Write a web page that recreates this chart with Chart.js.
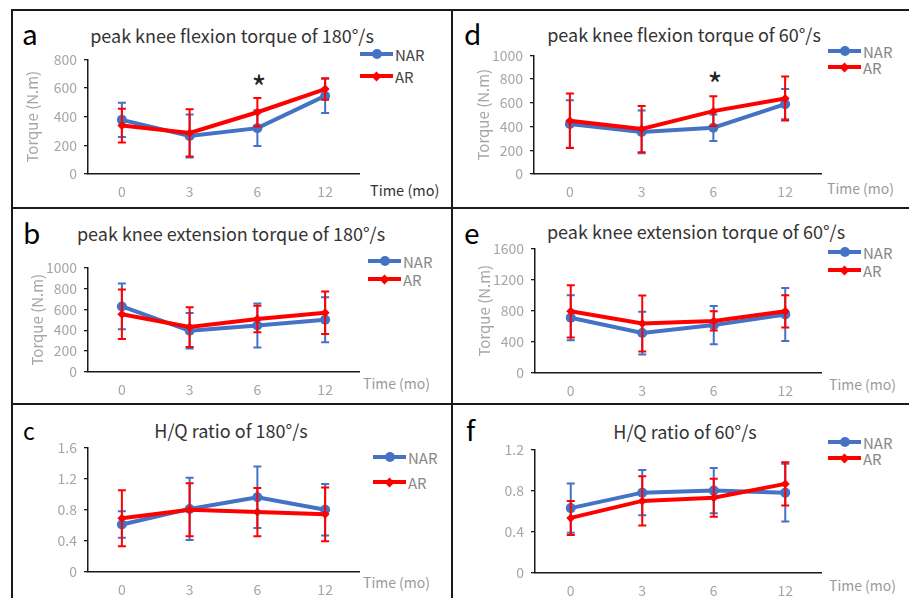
<!DOCTYPE html>
<html>
<head>
<meta charset="utf-8">
<script src="https://cdn.jsdelivr.net/npm/chart.js@4.4.1/dist/chart.umd.min.js"></script>
<style>
body { margin: 0; background: #fff; width: 909px; height: 598px; overflow: hidden; position: relative;
       font-family: "Noto Sans CJK SC", "Noto Sans", sans-serif; }
.rule { position: absolute; background: #1a1a1a; }
canvas { position: absolute; }
.t { position: absolute; white-space: nowrap; line-height: 1; transform: translate(-50%, -50%); }
.letter { position: absolute; line-height: 1; transform: translateY(-50%); color: #000; }
.title { font-size: 18px; color: #333; }
.time { font-size: 14px; color: #9a9a9a; transform: translateY(-50%); }
.star { font-size: 32px; color: #222; }
.lg { position: absolute; height: 0; width: 0; }
.lg i { position: absolute; left: 0; top: -2px; width: 33px; height: 4px; }
.lg b { position: absolute; }
.lg b.dot { left: 11.5px; top: -5px; width: 10px; height: 10px; border-radius: 50%; background: #4472c4; }
.lg b.dia { left: 13px; top: -3.5px; width: 7px; height: 7px; transform: rotate(45deg); background: #ff0000; }
.lg span { position: absolute; left: 35px; top: 0; transform: translateY(-50%); line-height: 1; font-size: 15px; color: #888; }
</style>
</head>
<body>

<div class="rule" style="left:11px;top:9px;width:898px;height:2px"></div>
<div class="rule" style="left:11px;top:9px;width:2px;height:589px"></div>
<div class="rule" style="left:451px;top:9px;width:2px;height:589px"></div>
<div class="rule" style="left:11px;top:207px;width:898px;height:2px"></div>
<div class="rule" style="left:11px;top:403px;width:898px;height:2px"></div>

<div class="letter" style="left:22px;top:33px;font-size:28px">a</div>
<div class="letter" style="left:23px;top:232px;font-size:28px">b</div>
<div class="letter" style="left:23px;top:430px;font-size:23px">c</div>
<div class="letter" style="left:464px;top:33px;font-size:28px">d</div>
<div class="letter" style="left:464px;top:232px;font-size:28px">e</div>
<div class="letter" style="left:466px;top:429px;font-size:28px">f</div>

<div class="t title" style="left:232px;top:35px">peak knee flexion torque of 180°/s</div>
<div class="t title" style="left:231px;top:233px">peak knee extension torque of 180°/s</div>
<div class="t title" style="left:231px;top:430px">H/Q ratio of 180°/s</div>
<div class="t title" style="left:684px;top:34px">peak knee flexion torque of 60°/s</div>
<div class="t title" style="left:696px;top:231px">peak knee extension torque of 60°/s</div>
<div class="t title" style="left:685px;top:431px">H/Q ratio of 60°/s</div>

<div class="t star" style="left:259px;top:86px">*</div>
<div class="t star" style="left:715px;top:83px">*</div>

<div class="t time" style="left:370px;top:190px;color:#333;font-size:14.5px">Time (mo)</div>
<div class="t time" style="left:363px;top:383px">Time (mo)</div>
<div class="t time" style="left:363px;top:582px">Time (mo)</div>
<div class="t time" style="left:827px;top:188px">Time (mo)</div>
<div class="t time" style="left:829px;top:384px">Time (mo)</div>
<div class="t time" style="left:829px;top:585px">Time (mo)</div>

<div class="lg" style="left:360px;top:54px"><i style="background:#4472c4"></i><b class="dot"></b><span style="color:#444">NAR</span></div>
<div class="lg" style="left:360px;top:76px"><i style="background:#ff0000"></i><b class="dia"></b><span style="color:#444">AR</span></div>
<div class="lg" style="left:368px;top:261px"><i style="background:#4472c4"></i><b class="dot"></b><span>NAR</span></div>
<div class="lg" style="left:368px;top:279px"><i style="background:#ff0000"></i><b class="dia"></b><span>AR</span></div>
<div class="lg" style="left:373px;top:457px"><i style="background:#4472c4"></i><b class="dot"></b><span>NAR</span></div>
<div class="lg" style="left:373px;top:482px"><i style="background:#ff0000"></i><b class="dia"></b><span>AR</span></div>
<div class="lg" style="left:828px;top:51px"><i style="background:#4472c4"></i><b class="dot"></b><span>NAR</span></div>
<div class="lg" style="left:828px;top:67px"><i style="background:#ff0000"></i><b class="dia"></b><span>AR</span></div>
<div class="lg" style="left:828px;top:252px"><i style="background:#4472c4"></i><b class="dot"></b><span>NAR</span></div>
<div class="lg" style="left:828px;top:270px"><i style="background:#ff0000"></i><b class="dia"></b><span>AR</span></div>
<div class="lg" style="left:828px;top:442px"><i style="background:#4472c4"></i><b class="dot"></b><span>NAR</span></div>
<div class="lg" style="left:828px;top:458px"><i style="background:#ff0000"></i><b class="dia"></b><span>AR</span></div>

<script>
const months = ['0', '3', '6', '12'];

// a: peak knee flexion torque 180°/s
const flex180Nar = [378, 265, 320, 545];
const flex180NarSd = [120, 150, 125, 120];
const flex180Ar = [338, 287, 431, 593];
const flex180ArSd = [118, 165, 100, 75];
const flex180Ticks = [0, 200, 400, 600, 800];

// b: peak knee extension torque 180°/s
const ext180Nar = [627, 394, 445, 500];
const ext180NarSd = [218, 170, 210, 215];
const ext180Ar = [552, 430, 506, 567];
const ext180ArSd = [237, 190, 127, 203];
const ext180Ticks = [0, 200, 400, 600, 800, 1000];

// c: H/Q ratio 180°/s
const hq180Nar = [0.61, 0.81, 0.96, 0.80];
const hq180NarSd = [0.17, 0.40, 0.395, 0.33];
const hq180Ar = [0.69, 0.80, 0.77, 0.74];
const hq180ArSd = [0.36, 0.34, 0.31, 0.345];
const hq180Ticks = [0, 0.4, 0.8, 1.2, 1.6];

// d: peak knee flexion torque 60°/s
const flex60Nar = [422, 355, 390, 589];
const flex60NarSd = [200, 180, 112, 128];
const flex60Ar = [449, 379, 530, 637];
const flex60ArSd = [230, 195, 126, 185];
const flex60Ticks = [0, 200, 400, 600, 800, 1000];

// e: peak knee extension torque 60°/s
const ext60Nar = [710, 513, 615, 751];
const ext60NarSd = [290, 275, 245, 340];
const ext60Ar = [792, 636, 669, 792];
const ext60ArSd = [335, 360, 123, 207];
const ext60Ticks = [0, 400, 800, 1200, 1600];

// f: H/Q ratio 60°/s
const hq60Nar = [0.63, 0.78, 0.80, 0.78];
const hq60NarSd = [0.24, 0.22, 0.22, 0.28];
const hq60Ar = [0.535, 0.70, 0.73, 0.865];
const hq60ArSd = [0.165, 0.24, 0.185, 0.21];
const hq60Ticks = [0, 0.4, 0.8, 1.2];

const blue = '#4472c4';
const red = '#ff0000';
const axisColor = '#1a1a1a';
const tickGray = '#a6a6a6';

const errorBars = {
    id: 'errorBars',
    beforeDatasetDraw(chart, args) {
        const ds = chart.data.datasets[args.index];
        const y = chart.scales.y;
        const ctx = chart.ctx;
        ctx.save();
        ctx.strokeStyle = ds.borderColor;
        ctx.lineWidth = 2;
        args.meta.data.forEach(function (pt, i) {
            const top = y.getPixelForValue(ds.data[i] + ds.errors[i]);
            const bot = y.getPixelForValue(ds.data[i] - ds.errors[i]);
            ctx.beginPath();
            ctx.moveTo(pt.x, top); ctx.lineTo(pt.x, bot);
            ctx.moveTo(pt.x - 4, top); ctx.lineTo(pt.x + 4, top);
            ctx.moveTo(pt.x - 4, bot); ctx.lineTo(pt.x + 4, bot);
            ctx.stroke();
        });
        ctx.restore();
    }
};

function buildPanel(p) {
    const canvas = document.createElement('canvas');
    const w = p.yw + (p.r - p.l) + 4;
    const h = (p.b - p.t) + 10 + 30;
    canvas.width = w;
    canvas.height = h;
    canvas.style.left = (p.l - p.yw) + 'px';
    canvas.style.top = (p.t - 10) + 'px';
    canvas.style.width = w + 'px';
    canvas.style.height = h + 'px';
    document.body.appendChild(canvas);

    new Chart(canvas, {
        type: 'line',
        data: {
            labels: months,
            datasets: [{
                label: 'NAR',
                data: p.nar,
                errors: p.narSd,
                borderColor: blue,
                backgroundColor: blue,
                borderWidth: 4,
                pointStyle: 'circle',
                pointRadius: 5,
                pointBorderWidth: 0,
                order: 1,
            }, {
                label: 'AR',
                data: p.ar,
                errors: p.arSd,
                borderColor: red,
                backgroundColor: red,
                borderWidth: 4,
                pointStyle: 'rectRot',
                pointRadius: 4.5,
                pointBorderWidth: 0,
                order: 0,
            }],
        },
        options: {
            responsive: false,
            animation: false,
            layout: { padding: { top: 10, right: 4, left: 0, bottom: 0 } },
            plugins: {
                legend: { display: false },
                tooltip: { enabled: false },
            },
            scales: {
                x: {
                    offset: true,
                    grid: { display: false, drawTicks: false },
                    border: { display: true, color: axisColor, width: 1.5 },
                    ticks: { color: tickGray, font: { size: 14 }, padding: 9 },
                    afterFit(s) { s.height = 30; },
                },
                y: {
                    min: p.ticks[0],
                    max: p.ticks[p.ticks.length - 1],
                    afterBuildTicks(s) { s.ticks = p.ticks.map(v => ({ value: v })); },
                    grid: { drawOnChartArea: false, tickLength: 4, color: axisColor, lineWidth: 1.3 },
                    border: { display: true, color: axisColor, width: 1.5 },
                    ticks: {
                        color: tickGray,
                        font: { size: 14 },
                        padding: 7,
                        callback: v => String(v),
                    },
                    title: {
                        display: p.yTitle,
                        text: 'Torque (N.m)',
                        color: tickGray,
                        font: { size: 15 },
                        padding: { top: 3, bottom: 3 },
                    },
                    afterFit(s) { s.width = p.yw; },
                },
            },
        },
        plugins: [errorBars],
    });
}

Chart.defaults.font.family = '"Noto Sans CJK SC", "Noto Sans", sans-serif';

buildPanel({ nar: flex180Nar, narSd: flex180NarSd, ar: flex180Ar, arSd: flex180ArSd, ticks: flex180Ticks,
    yTitle: true, l: 88, r: 360, t: 54, b: 174, yw: 68 });
buildPanel({ nar: ext180Nar, narSd: ext180NarSd, ar: ext180Ar, arSd: ext180ArSd, ticks: ext180Ticks,
    yTitle: true, l: 88, r: 360, t: 262, b: 372, yw: 63 });
buildPanel({ nar: hq180Nar, narSd: hq180NarSd, ar: hq180Ar, arSd: hq180ArSd, ticks: hq180Ticks,
    yTitle: false, l: 88, r: 360, t: 442, b: 572, yw: 60 });
buildPanel({ nar: flex60Nar, narSd: flex60NarSd, ar: flex60Ar, arSd: flex60ArSd, ticks: flex60Ticks,
    yTitle: true, l: 534, r: 822, t: 50, b: 174, yw: 63 });
buildPanel({ nar: ext60Nar, narSd: ext60NarSd, ar: ext60Ar, arSd: ext60ArSd, ticks: ext60Ticks,
    yTitle: true, l: 535, r: 822, t: 243, b: 373, yw: 63 });
buildPanel({ nar: hq60Nar, narSd: hq60NarSd, ar: hq60Ar, arSd: hq60ArSd, ticks: hq60Ticks,
    yTitle: false, l: 535, r: 822, t: 444, b: 573, yw: 60 });
</script>
</body>
</html>
